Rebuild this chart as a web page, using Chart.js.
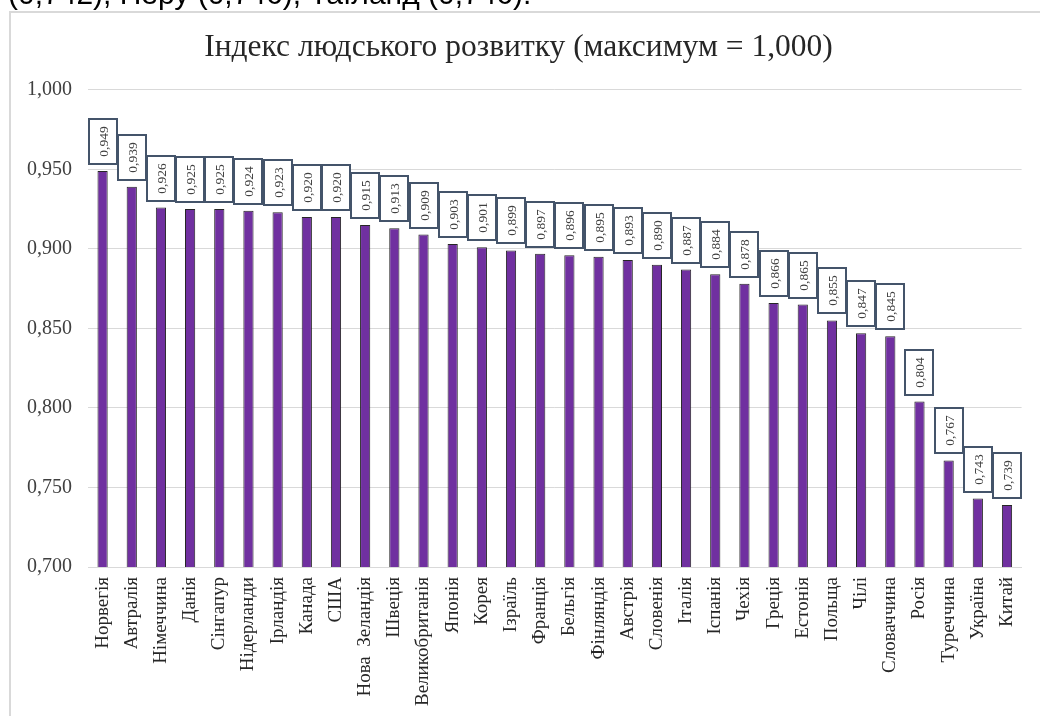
<!DOCTYPE html>
<html>
<head>
<meta charset="utf-8">
<script src="https://cdn.jsdelivr.net/npm/chart.js@4"></script>
<style>
    body { margin: 0; background: #fff; overflow: hidden; }
    #wrap { position: absolute; left: 0; top: 0; width: 1040px; height: 716px; }
    #note {
        position: absolute; left: 8px; top: -23px; white-space: nowrap; line-height: 34px;
        font-family: "Liberation Sans", Arial, sans-serif; font-size: 30px; color: #000;
    }
    #frame {
        position: absolute; left: 9px; top: 11px; width: 1100px; height: 800px;
        border-left: 2px solid #d9d9d9; border-top: 2px solid #d9d9d9; pointer-events: none;
    }
</style>
</head>
<body>
<div id="wrap">
    <canvas id="hdiChart" width="1040" height="716"></canvas>
</div>
<div id="note">(0,742), Перу (0,746), Таїланд (0,746).</div>
<div id="frame"></div>
<script>
// країни і значення ІЛР
var countries = ['Норвегія', 'Автралія', 'Німеччина', 'Данія', 'Сінгапур', 'Нідерланди', 'Ірландія', 'Канада',
    'США', 'Нова  Зеландія', 'Швеція', 'Великобританія', 'Японія', 'Корея', 'Ізраїль', 'Франція', 'Бельгія',
    'Фінляндія', 'Австрія', 'Словенія', 'Італія', 'Іспанія', 'Чехія', 'Греція', 'Естонія', 'Польща', 'Чілі',
    'Словаччина', 'Росія', 'Туреччина', 'Україна', 'Китай'];
var hdiValues = [0.949, 0.939, 0.926, 0.925, 0.925, 0.924, 0.923, 0.920, 0.920, 0.915, 0.913, 0.909, 0.903,
    0.901, 0.899, 0.897, 0.896, 0.895, 0.893, 0.890, 0.887, 0.884, 0.878, 0.866, 0.865, 0.855, 0.847, 0.845,
    0.804, 0.767, 0.743, 0.739];
var yTicks = [0.700, 0.750, 0.800, 0.850, 0.900, 0.950, 1.000];

function fmt(v) {
    return v.toFixed(3).replace('.', ',');
}

// рамки з підписами над стовпцями
var valueBoxes = {
    id: 'valueBoxes',
    afterDatasetsDraw: function(chart) {
        var ctx = chart.ctx;
        var meta = chart.getDatasetMeta(0);
        meta.data.forEach(function(bar, i) {
            var w = 28, h = 45;
            var x = Math.round(bar.x - w / 2);
            var y = Math.round(bar.y - 7 - h);
            ctx.save();
            ctx.fillStyle = '#ffffff';
            ctx.fillRect(x, y, w, h);
            ctx.strokeStyle = '#44546A';
            ctx.lineWidth = 2;
            ctx.strokeRect(x, y, w, h);
            ctx.translate(x + w / 2, y + h / 2);
            ctx.rotate(-Math.PI / 2);
            ctx.font = '13.5px "Liberation Serif"';
            ctx.fillStyle = '#404040';
            ctx.textAlign = 'center';
            ctx.textBaseline = 'middle';
            ctx.fillText(fmt(hdiValues[i]), 0, 1);
            ctx.restore();
        });
    }
};

document.addEventListener('DOMContentLoaded', function() {
    var ctx = document.getElementById('hdiChart').getContext('2d');
    var hdiChart = new Chart(ctx, {
        type: 'bar',
        data: {
            labels: countries,
            datasets: [{
                label: 'ІЛР',
                data: hdiValues,
                backgroundColor: '#7030A0',
                borderColor: '#262626',
                borderWidth: 1,
                borderSkipped: false,
                barPercentage: 0.35,
                categoryPercentage: 1
            }]
        },
        options: {
            responsive: false,
            animation: false,
            layout: { padding: { left: 10, right: 13, top: 0, bottom: 0 } },
            plugins: {
                legend: { display: false },
                tooltip: { enabled: false },
                title: {
                    display: true,
                    text: 'Індекс людського розвитку (максимум = 1,000)',
                    color: '#262626',
                    font: { family: '"Liberation Serif"', size: 31.5, weight: 'normal', lineHeight: 1.2 },
                    padding: { top: 29, bottom: 23 }
                }
            },
            scales: {
                y: {
                    min: 0.7,
                    max: 1.0,
                    afterBuildTicks: function(scale) {
                        scale.ticks = yTicks.map(function(v) { return { value: v }; });
                    },
                    afterFit: function(scale) { scale.width = 78; },
                    border: { display: false },
                    grid: { color: '#d9d9d9', drawTicks: false },
                    ticks: {
                        padding: 16,
                        color: '#404040',
                        font: { family: '"Liberation Serif"', size: 20 },
                        callback: function(v) { return fmt(v); }
                    }
                },
                x: {
                    afterFit: function(scale) { scale.height = 149; },
                    border: { display: true, color: '#d9d9d9' },
                    grid: { display: false, drawTicks: false },
                    ticks: {
                        padding: 10,
                        autoSkip: false,
                        minRotation: 90,
                        maxRotation: 90,
                        color: '#262626',
                        font: { family: '"Liberation Serif"', size: 19 }
                    }
                }
            }
        },
        plugins: [valueBoxes]
    });
});
</script>
</body>
</html>
